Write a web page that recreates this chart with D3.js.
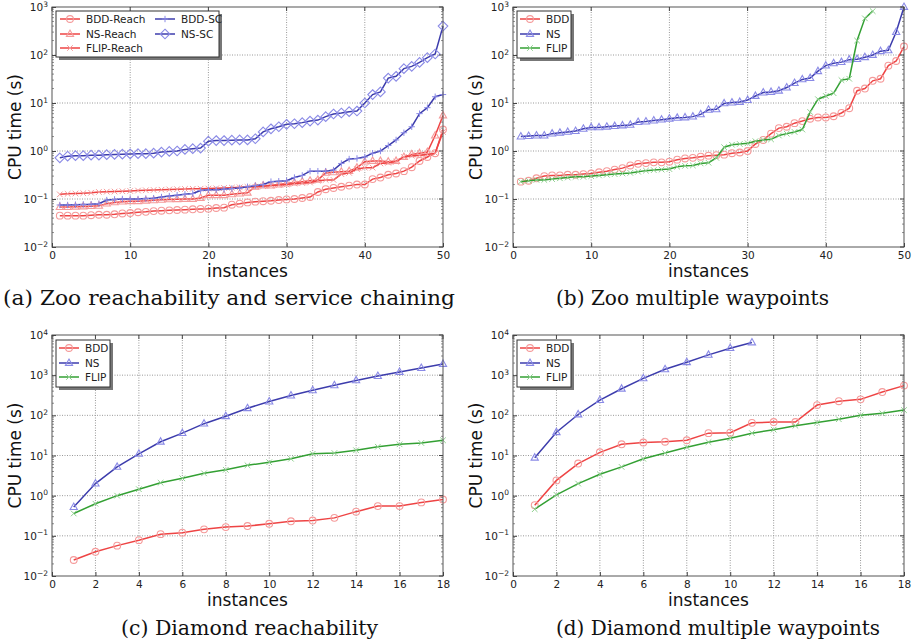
<!DOCTYPE html>
<html><head><meta charset="utf-8">
<script src="https://cdn.jsdelivr.net/npm/d3@7"></script>
<style>body{margin:0;background:#fff}svg{display:block}</style>
</head><body>
<svg id="c" width="912" height="643"></svg>
<script>
// ---- Data ----
const zooReachX = d3.range(1, 51);
const bddReach = [0.045,0.045,0.045,0.045,0.046,0.047,0.047,0.048,0.05,0.051,0.053,0.054,0.056,0.057,0.058,0.059,0.06,0.061,0.062,0.063,0.065,0.066,0.076,0.08,0.085,0.088,0.09,0.092,0.095,0.098,0.1,0.105,0.11,0.14,0.16,0.17,0.18,0.19,0.2,0.2,0.26,0.28,0.32,0.34,0.38,0.46,0.62,0.75,0.9,2.8];
const nsReach = [0.068,0.068,0.069,0.07,0.071,0.072,0.08,0.085,0.088,0.09,0.09,0.092,0.094,0.096,0.098,0.099,0.1,0.1,0.105,0.12,0.12,0.12,0.125,0.13,0.135,0.18,0.19,0.19,0.2,0.21,0.22,0.23,0.24,0.25,0.35,0.36,0.37,0.38,0.45,0.6,0.62,0.62,0.6,0.62,0.75,0.85,0.9,0.95,2.1,5.5];
const flipReach = [0.125,0.128,0.13,0.132,0.135,0.14,0.142,0.143,0.145,0.147,0.15,0.152,0.154,0.156,0.158,0.16,0.162,0.163,0.164,0.165,0.167,0.17,0.172,0.175,0.178,0.18,0.185,0.19,0.195,0.2,0.21,0.215,0.22,0.24,0.25,0.25,0.33,0.35,0.42,0.45,0.45,0.55,0.57,0.6,0.75,0.8,0.82,0.85,0.9,2.5];
const bddSC = [0.075,0.075,0.076,0.077,0.078,0.08,0.095,0.098,0.1,0.1,0.1,0.102,0.104,0.11,0.115,0.12,0.125,0.13,0.15,0.155,0.155,0.16,0.165,0.17,0.18,0.19,0.2,0.23,0.235,0.24,0.28,0.31,0.38,0.38,0.38,0.4,0.55,0.68,0.7,0.75,0.9,1.0,1.3,1.7,2.4,3.2,6.0,8.0,13.5,15];
const nsSC = [0.72,0.78,0.8,0.8,0.82,0.82,0.84,0.85,0.86,0.87,0.88,0.88,0.9,0.95,0.98,1.0,1.08,1.12,1.15,1.6,1.65,1.65,1.68,1.7,1.7,1.8,2.5,2.9,3.2,3.6,3.7,3.9,4.2,4.4,5.2,5.9,6.2,6.6,6.8,10,15,17,33,36,52,58,70,88,105,400];

const zooWpX = d3.range(1, 51);
const bddWp = [0.23,0.24,0.27,0.3,0.31,0.31,0.32,0.32,0.33,0.34,0.36,0.38,0.41,0.44,0.5,0.54,0.56,0.58,0.58,0.6,0.66,0.7,0.72,0.76,0.8,0.82,0.84,0.9,0.93,1.0,1.4,1.7,2.3,3.0,3.2,3.8,4.2,4.7,5.0,5.0,5.3,6.2,7.8,18,20,29,32,60,75,150];
const nsWp = [2.0,2.05,2.1,2.1,2.3,2.4,2.5,2.6,2.9,3.1,3.1,3.2,3.3,3.4,3.5,4.0,4.1,4.3,4.5,4.7,4.9,5.0,5.2,5.8,7.2,7.4,9.8,10.2,10.5,11.5,14,16.5,17,18,21,26,31,33,46,60,67,71,80,82,90,100,120,125,300,1000];
const flipWp = [0.23,0.24,0.25,0.25,0.26,0.27,0.28,0.29,0.29,0.3,0.31,0.32,0.33,0.34,0.35,0.37,0.39,0.4,0.41,0.42,0.47,0.49,0.5,0.55,0.57,0.72,1.2,1.35,1.4,1.45,1.6,1.7,1.75,2.1,2.3,2.5,2.8,6.5,12,14,16,30,32,200,580,820];

const diaX = d3.range(1, 19);
const bddDiaReach = [0.025,0.04,0.057,0.078,0.11,0.12,0.145,0.165,0.175,0.2,0.23,0.24,0.28,0.4,0.55,0.55,0.68,0.8];
const nsDiaReach = [0.52,2.0,5.2,11,22,36,62,95,150,220,310,420,560,740,950,1200,1500,1900];
const flipDiaReach = [0.36,0.63,1.0,1.45,2.1,2.7,3.6,4.4,5.7,6.8,8.3,11,11.5,13.5,16.5,19,20.5,24];

const bddDiaWp = [0.58,2.4,6.3,12,19,21,22,24,36,37,65,68,68,180,225,250,380,550];
const nsDiaWp = [8.8,38,105,240,460,830,1400,2100,3200,4700,6500];
const flipDiaWp = [0.46,1.05,2.0,3.4,5.2,8.3,11.5,16,21.5,27,36,44,55,66,80,100,112,135];

const xTicksZoo = [0,10,20,30,40,50];
const xTicksDia = [0,2,4,6,8,10,12,14,16,18];
const yExpZoo = [-2,-1,0,1,2,3];
const yExpDia = [-2,-1,0,1,2,3,4];

const captions = ["(a) Zoo reachability and service chaining","(b) Zoo multiple waypoints","(c) Diamond reachability","(d) Diamond multiple waypoints"];

// ---- Styles ----
const RED = {line:"#ee4444", mk:"#f59a9a"};
const BLUE = {line:"#3c3cac", mk:"#8a8ae6"};
const GREEN = {line:"#33a033", mk:"#8fd08f"};

const svg = d3.select("#c");

function marker(g, type, x, y, color) {
  const s = color;
  if (type === "circle") g.append("circle").attr("cx",x).attr("cy",y).attr("r",3.4).attr("fill","none").attr("stroke",s).attr("stroke-width",1.1);
  else if (type === "tri") { const r=4; g.append("path").attr("d",`M${x},${y-r}L${x+r*0.9},${y+r*0.6}L${x-r*0.9},${y+r*0.6}Z`).attr("fill","none").attr("stroke",s).attr("stroke-width",1.1); }
  else if (type === "x") { const r=2.8; g.append("path").attr("d",`M${x-r},${y-r}L${x+r},${y+r}M${x-r},${y+r}L${x+r},${y-r}`).attr("stroke",s).attr("stroke-width",1); }
  else if (type === "plus") { const r=3.2; g.append("path").attr("d",`M${x-r},${y}L${x+r},${y}M${x},${y-r}L${x},${y+r}`).attr("stroke",s).attr("stroke-width",1); }
  else if (type === "diamond") { const r=4.8; g.append("path").attr("d",`M${x},${y-r}L${x+r},${y}L${x},${y+r}L${x-r},${y}Z`).attr("fill","none").attr("stroke",s).attr("stroke-width",1.1); }
}

function panel(cfg) {
  const {x0,x1,y0,y1,xmax,xticks,yexp,series,legend,caption,capY} = cfg;
  const x = d3.scaleLinear().domain([0,xmax]).range([x0,x1]);
  const y = d3.scaleLog().domain([Math.pow(10,yexp[0]), Math.pow(10,yexp[yexp.length-1])]).range([y1,y0]);
  const g = svg.append("g");
  // grid
  xticks.forEach(t => { if (t>0 && t<xmax) g.append("line").attr("x1",x(t)).attr("x2",x(t)).attr("y1",y0).attr("y2",y1).attr("stroke","#999").attr("stroke-width",1).attr("stroke-dasharray","1,1.5"); });
  yexp.forEach((e,i) => { if (i>0 && i<yexp.length-1) g.append("line").attr("x1",x0).attr("x2",x1).attr("y1",y(Math.pow(10,e))).attr("y2",y(Math.pow(10,e))).attr("stroke","#999").attr("stroke-width",1).attr("stroke-dasharray","1,1.5"); });
  // minor ticks
  for (let i=0;i<yexp.length-1;i++) for (let k=2;k<10;k++) {
    const v = k*Math.pow(10,yexp[i]); const yy=y(v);
    g.append("line").attr("x1",x0).attr("x2",x0+2).attr("y1",yy).attr("y2",yy).attr("stroke","#444").attr("stroke-width",0.6);
    g.append("line").attr("x1",x1).attr("x2",x1-2).attr("y1",yy).attr("y2",yy).attr("stroke","#444").attr("stroke-width",0.6);
  }
  // series
  series.forEach(s => {
    const pts = s.values.map((v,i)=>[s.xs[i], v]);
    g.append("path").attr("d", d3.line().x(d=>x(d[0])).y(d=>y(d[1]))(pts)).attr("fill","none").attr("stroke",s.c.line).attr("stroke-width",1.5);
    const mg = g.append("g");
    pts.forEach(d => marker(mg, s.m, x(d[0]), y(d[1]), s.c.mk));
  });
  // frame
  g.append("rect").attr("x",x0).attr("y",y0).attr("width",x1-x0).attr("height",y1-y0).attr("fill","none").attr("stroke","#555").attr("stroke-width",1);
  // axes
  const xa = g.append("g").attr("transform",`translate(0,${y1})`).call(d3.axisBottom(x).tickValues(xticks).tickFormat(d3.format("d")).tickSize(-4).tickPadding(5));
  const ya = g.append("g").attr("transform",`translate(${x0},0)`).call(d3.axisLeft(y).tickValues(yexp.map(e=>Math.pow(10,e))).tickSize(-4).tickPadding(4).tickFormat(""));
  [xa,ya].forEach(a=>{a.select(".domain").remove(); a.selectAll(".tick line").attr("stroke","#444"); a.selectAll("text").attr("font-family","DejaVu Sans").attr("font-size",10.5).attr("fill","#222");});
  // y tick labels with superscripts
  yexp.forEach(e => {
    const t = g.append("text").attr("x",x0-4).attr("y",y(Math.pow(10,e))+4).attr("text-anchor","end").attr("font-family","DejaVu Sans").attr("font-size",10.5).attr("fill","#222");
    t.append("tspan").text("10");
    t.append("tspan").attr("dy",-4.5).attr("font-size",7.5).text(e<0?"\u2212"+(-e):String(e));
  });
  // right / top ticks
  yexp.forEach(e => { const yy=y(Math.pow(10,e)); g.append("line").attr("x1",x1).attr("x2",x1-4).attr("y1",yy).attr("y2",yy).attr("stroke","#444"); });
  xticks.forEach(t => g.append("line").attr("x1",x(t)).attr("x2",x(t)).attr("y1",y0).attr("y2",y0+4).attr("stroke","#444"));
  // labels
  g.append("text").attr("x",(x0+x1)/2).attr("y",y1+30).attr("text-anchor","middle").attr("font-family","DejaVu Sans").attr("font-size",17).attr("fill","#111").text("instances");
  g.append("text").attr("transform",`translate(${x0-31},${(y0+y1)/2}) rotate(-90)`).attr("text-anchor","middle").attr("font-family","DejaVu Sans").attr("font-size",17).attr("fill","#111").text("CPU time (s)");
  // legend
  const L = legend;
  const lg = g.append("g");
  lg.append("rect").attr("x",L.x+3).attr("y",L.y+3).attr("width",L.w).attr("height",L.h).attr("fill","#777");
  lg.append("rect").attr("x",L.x).attr("y",L.y).attr("width",L.w).attr("height",L.h).attr("fill","#fff").attr("stroke","#333").attr("stroke-width",1);
  L.items.forEach(it => {
    const s = series[it.i];
    lg.append("line").attr("x1",it.lx).attr("x2",it.lx+20).attr("y1",it.ly).attr("y2",it.ly).attr("stroke",s.c.line).attr("stroke-width",1.5);
    marker(lg, s.m, it.lx+10, it.ly, s.c.mk);
    lg.append("text").attr("x",it.lx+26).attr("y",it.ly+4).attr("font-family","DejaVu Sans").attr("font-size",10.5).attr("fill","#222").text(s.name);
  });
  // caption
  svg.append("text").attr("x",cfg.capX).attr("y",capY).attr("font-family","DejaVu Serif").attr("font-size",20)
    .attr("textLength",cfg.capW).attr("lengthAdjust","spacingAndGlyphs").attr("fill","#111").text(caption);
}

panel({x0:52,x1:443,y0:7,y1:247,xmax:50,xticks:xTicksZoo,yexp:yExpZoo,
  series:[
    {name:"BDD-Reach",xs:zooReachX,values:bddReach,c:RED,m:"circle"},
    {name:"NS-Reach",xs:zooReachX,values:nsReach,c:RED,m:"tri"},
    {name:"FLIP-Reach",xs:zooReachX,values:flipReach,c:RED,m:"x"},
    {name:"BDD-SC",xs:zooReachX,values:bddSC,c:BLUE,m:"plus"},
    {name:"NS-SC",xs:zooReachX,values:nsSC,c:BLUE,m:"diamond"}],
  legend:{x:56,y:11,w:163,h:46,items:[{i:0,lx:60,ly:19},{i:1,lx:60,ly:34},{i:2,lx:60,ly:48},{i:3,lx:155,ly:19},{i:4,lx:155,ly:34}]},
  caption:captions[0],capX:3,capW:452,capY:305});

panel({x0:513,x1:904,y0:7,y1:247,xmax:50,xticks:xTicksZoo,yexp:yExpZoo,
  series:[
    {name:"BDD",xs:zooWpX,values:bddWp,c:RED,m:"circle"},
    {name:"NS",xs:zooWpX,values:nsWp,c:BLUE,m:"tri"},
    {name:"FLIP",xs:zooWpX.slice(0,flipWp.length),values:flipWp,c:GREEN,m:"x"}],
  legend:{x:517,y:11,w:54,h:47,items:[{i:0,lx:520,ly:19},{i:1,lx:520,ly:34},{i:2,lx:520,ly:48}]},
  caption:captions[1],capX:556,capW:273,capY:305});

panel({x0:52,x1:443,y0:335,y1:576,xmax:18,xticks:xTicksDia,yexp:yExpDia,
  series:[
    {name:"BDD",xs:diaX,values:bddDiaReach,c:RED,m:"circle"},
    {name:"NS",xs:diaX,values:nsDiaReach,c:BLUE,m:"tri"},
    {name:"FLIP",xs:diaX,values:flipDiaReach,c:GREEN,m:"x"}],
  legend:{x:56,y:340,w:54,h:47,items:[{i:0,lx:59,ly:348},{i:1,lx:59,ly:363},{i:2,lx:59,ly:377}]},
  caption:captions[2],capX:121,capW:257,capY:635});

panel({x0:513,x1:904,y0:335,y1:576,xmax:18,xticks:xTicksDia,yexp:yExpDia,
  series:[
    {name:"BDD",xs:diaX,values:bddDiaWp,c:RED,m:"circle"},
    {name:"NS",xs:diaX.slice(0,nsDiaWp.length),values:nsDiaWp,c:BLUE,m:"tri"},
    {name:"FLIP",xs:diaX,values:flipDiaWp,c:GREEN,m:"x"}],
  legend:{x:517,y:340,w:54,h:47,items:[{i:0,lx:520,ly:348},{i:1,lx:520,ly:363},{i:2,lx:520,ly:377}]},
  caption:captions[3],capX:556,capW:324,capY:635});
</script>
</body></html>
